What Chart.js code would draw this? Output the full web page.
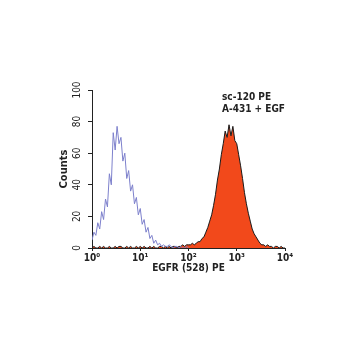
<!DOCTYPE html>
<html>
<head>
<meta charset="utf-8">
<script src="https://cdn.jsdelivr.net/npm/chart.js@4"></script>
<style>
  html, body { margin: 0; padding: 0; background: #fff; }
  #wrap { width: 350px; height: 350px; }
</style>
</head>
<body>
<div id="wrap"><canvas id="facsChart" width="350" height="350"></canvas></div>
<script>
// Canales del histograma (0..100 = 10^0..10^4, 25 canales por década)
const channels = [
  0, 1, 2, 3, 4, 5, 6, 7, 8, 9, 10, 11, 12, 13, 14, 15, 16, 17, 18, 19,
  20, 21, 22, 23, 24, 25, 26, 27, 28, 29, 30, 31, 32, 33, 34, 35, 36, 37, 38, 39,
  40, 41, 42, 43, 44, 45, 46, 47, 48, 49, 50, 51, 52, 53, 54, 55, 56, 57, 58, 59,
  60, 61, 62, 63, 64, 65, 66, 67, 68, 69, 70, 71, 72, 73, 74, 75, 76, 77, 78, 79,
  80, 81, 82, 83, 84, 85, 86, 87, 88, 89, 90, 91, 92, 93, 94, 95, 96, 97, 98, 99, 100
];

// Control (línea azul)
const controlCounts = [
  5, 10, 8, 16, 12, 23, 18, 31, 26, 47, 40, 73, 62, 77, 66, 70, 55, 60, 44, 49,
  36, 40, 28, 32, 21, 25, 15, 18, 10, 13, 6, 8, 3, 5, 2, 3, 1, 2, 1, 1,
  2, 1, 0, 1, 1, 0, 1, 0, 0, 1, 0
];

// sc-120 PE (relleno rojo)
const sampleCounts = [
  0, 1, 0, 0, 1, 0, 1, 0, 0, 1, 0, 0, 1, 0, 1, 1, 0, 0, 1, 0,
  1, 0, 0, 1, 0, 1, 0, 1, 0, 0, 1, 0, 1, 0, 0, 1, 1, 0, 1, 0,
  1, 0, 1, 1, 0, 1, 1, 2, 1, 2, 2, 2, 3, 2, 3, 4, 4, 6, 7, 10,
  13, 17, 21, 27, 34, 43, 50, 59, 66, 74, 70, 78, 71, 77, 68, 66, 59, 52, 44, 35,
  28, 22, 17, 12, 9, 7, 5, 3, 2, 2, 1, 2, 1, 1, 0, 1, 1, 0, 1, 0, 0
];

const xTickLabels = ['10⁰', '10¹', '10²', '10³', '10⁴'];
const legendLines = ['sc-120 PE', 'A-431 + EGF'];

const FONT = "'Liberation Sans Narrow', 'DejaVu Sans Condensed', Arial, sans-serif";

function toPoints(values) {
  return values.map((v, i) => ({ x: channels[i], y: v }));
}

// Texto de la esquina superior derecha
const cornerText = {
  id: 'cornerText',
  afterDraw(chart) {
    const c = chart.ctx;
    c.save();
    c.fillStyle = '#222';
    c.font = 'bold 10px ' + FONT;
    c.textBaseline = 'middle';
    c.textAlign = 'left';
    c.fillText(legendLines[0], 222, 97);
    c.fillText(legendLines[1], 222, 109);
    c.restore();
  }
};

const ctx = document.getElementById('facsChart').getContext('2d');

const config = {
  type: 'line',
  data: {
    datasets: [
      {
        label: 'Control',
        data: toPoints(controlCounts),
        borderColor: '#7d80cc',
        borderWidth: 1,
        pointRadius: 0,
        fill: false,
        tension: 0
      },
      {
        label: legendLines[0],
        data: toPoints(sampleCounts),
        borderColor: '#1a1a1a',
        backgroundColor: '#f2491b',
        borderWidth: 1,
        pointRadius: 0,
        fill: 'origin',
        tension: 0
      }
    ]
  },
  options: {
    responsive: false,
    animation: false,
    layout: { padding: { left: 58, right: 65, top: 90, bottom: 76 } },
    plugins: {
      legend: { display: false },
      tooltip: { enabled: false }
    },
    scales: {
      x: {
        type: 'linear',
        min: 0,
        max: 100,
        afterFit(scale) { scale.height = 26; },
        afterBuildTicks(scale) {
          scale.ticks = [0, 25, 50, 75, 100].map(v => ({ value: v }));
        },
        ticks: {
          autoSkip: false,
          maxRotation: 0,
          padding: 1,
          color: '#222',
          font: { family: FONT, size: 10, weight: 'bold' },
          callback: (v) => xTickLabels[Math.round(v / 25)]
        },
        grid: { drawOnChartArea: false, drawTicks: true, tickLength: 3, color: '#222' },
        border: { display: true, color: '#222', width: 1 },
        title: {
          display: true,
          text: 'EGFR (528) PE',
          color: '#222',
          padding: 0,
          font: { family: FONT, size: 10, weight: 'bold' }
        }
      },
      y: {
        min: 0,
        max: 100,
        afterFit(scale) { scale.width = 34; },
        ticks: {
          stepSize: 20,
          minRotation: 90,
          maxRotation: 90,
          crossAlign: 'center',
          padding: 2,
          color: '#222',
          font: { family: FONT, size: 10 }
        },
        grid: { drawOnChartArea: false, drawTicks: true, tickLength: 4, color: '#222' },
        border: { display: true, color: '#222', width: 1 },
        title: {
          display: true,
          text: 'Counts',
          color: '#222',
          padding: 0,
          font: { family: FONT, size: 11, weight: 'bold' }
        }
      }
    }
  },
  plugins: [cornerText]
};

const facsChart = new Chart(ctx, config);
</script>
</body>
</html>
